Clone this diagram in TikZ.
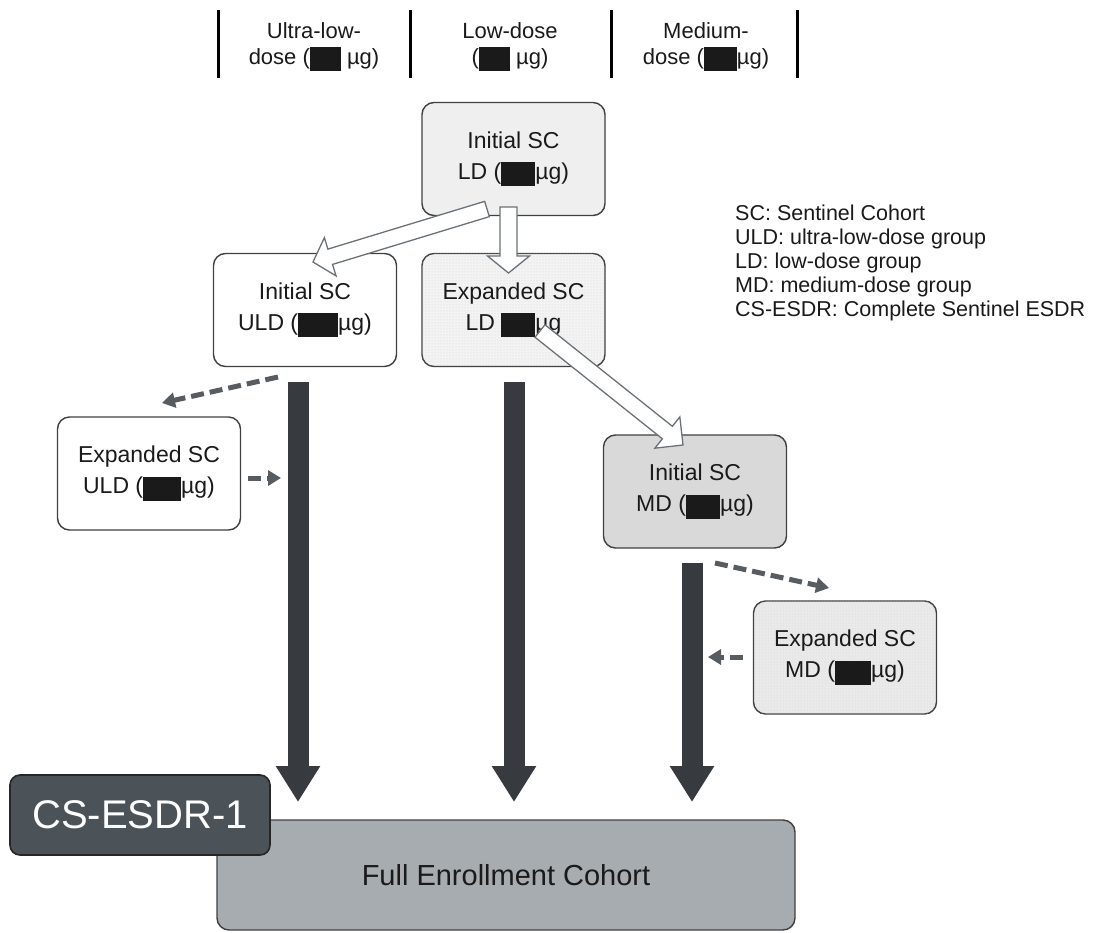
\documentclass[tikz,border=0pt]{standalone}
\usepackage{fontspec}
\setmainfont{Liberation Sans}
\usetikzlibrary{arrows.meta,calc,patterns}
\definecolor{bordc}{HTML}{404040}
\definecolor{txt}{HTML}{1A1A1A}
\definecolor{ildc}{HTML}{EFEFEF}
\definecolor{eldc}{HTML}{F3F3F3}
\definecolor{imdc}{HTML}{D9D9D9}
\definecolor{emdc}{HTML}{EAEAEA}
\definecolor{dotc}{HTML}{D2D2D2}
\definecolor{fullc}{HTML}{A7ACB1}
\definecolor{csc}{HTML}{4B5359}
\definecolor{barc}{HTML}{373B3F}
\definecolor{dashc}{HTML}{575C61}
\definecolor{openc}{HTML}{6B7277}
\newcommand\blk[1][34pt]{\rule[-7pt]{#1}{24pt}}
\newcommand\blockarr[5]{%
  \coordinate (ba-h) at ($(#2)!#5!(#1)$);
  \draw[openarr] ($(#1)!#3!90:(#2)$) -- ($(ba-h)!#3!90:(#2)$) -- ($(ba-h)!#4!90:(#2)$)
    -- (#2) -- ($(ba-h)!#4!-90:(#2)$) -- ($(ba-h)!#3!-90:(#2)$) -- ($(#1)!#3!-90:(#2)$) -- cycle;}
\begin{document}
\begin{tikzpicture}[x=1pt,y=-1pt,
  box/.style={draw=bordc, line width=1.4pt, rounded corners=12pt, minimum width=183pt,
    minimum height=113pt, align=center, inner sep=0pt, text=txt,
    font=\fontsize{23pt}{31pt}\selectfont},
  dotted box/.style={box, postaction={pattern=dots, pattern color=dotc}},
  hdr/.style={align=center, inner sep=0pt, text=txt, font=\fontsize{22pt}{26pt}\selectfont},
  hline/.style={line width=3pt, draw=black},
  bar/.style={draw=barc, line width=21pt, -{Triangle[width=42pt,length=36pt]}},
  dasharr/.style={draw=dashc, line width=5pt, dash pattern=on 13pt off 6pt,
    -{Triangle[width=15pt,length=13pt]}},
  openarr/.style={draw=openc, line width=1.3pt, fill=white, line join=miter}]
\useasboundingbox (0,0) rectangle (1106,932);
% header
\draw[hline] (218,10) -- (218,78);
\draw[hline] (410,10) -- (410,78);
\draw[hline] (611,10) -- (611,78);
\draw[hline] (797,10) -- (797,78);
\node[hdr] (h1) at (314,47) {Ultra-low-\\dose (\blk[31pt] µg)};
\node[hdr] (h2) at (510,47) {Low-dose\\(\blk[31pt] µg)};
\node[hdr] (h3) at (706,47) {Medium-\\dose (\blk[33pt]µg)};
% legend
\node[anchor=west, align=left, inner sep=0pt, text=txt,
  font=\fontsize{21.5pt}{24pt}\selectfont] (legend) at (735,263)
  {SC: Sentinel Cohort\\ULD: ultra-low-dose group\\LD: low-dose group\\MD: medium-dose group\\CS-ESDR: Complete Sentinel ESDR};
% boxes
\node[box, fill=ildc] (ild) at (513.5,159) {Initial SC\\LD (\blk µg)};
\node[box, fill=white] (iuld) at (305,310) {Initial SC\\ULD (\blk[40pt]µg)};
\node[dotted box, fill=eldc] (eld) at (513.5,310) {Expanded SC\\LD \blk µg};
\node[box, fill=white] (euld) at (149,473.5) {Expanded SC\\ULD (\blk[38pt]µg)};
\node[box, fill=imdc] (imd) at (695,491.5) {Initial SC\\MD (\blk µg)};
\node[dotted box, fill=emdc] (emd) at (845,657.5) {Expanded SC\\MD (\blk[36pt]µg)};
% bottom boxes
\node[draw=bordc, line width=1.4pt, rounded corners=12pt, fill=fullc, minimum width=578pt,
  minimum height=110pt, inner sep=0pt, text=txt, font=\fontsize{29pt}{34pt}\selectfont]
  (full) at (506,875) {Full Enrollment Cohort};
\node[draw=black!85, line width=1.6pt, rounded corners=10pt, fill=csc, minimum width=260pt,
  minimum height=80pt, inner sep=0pt, text=white, font=\fontsize{40pt}{44pt}\selectfont]
  (cs) at (140,815) {CS-ESDR-1};
% bars
\coordinate (b1s) at (298,382); \coordinate (b1e) at (298,802);
\coordinate (b2s) at (514,382); \coordinate (b2e) at (514,802);
\coordinate (b3s) at (692,563); \coordinate (b3e) at (692,802);
\draw[bar] (b1s) -- (b1e);
\draw[bar] (b2s) -- (b2e);
\draw[bar] (b3s) -- (b3e);
% dashed arrows
\coordinate (d1s) at (278,377); \coordinate (d1e) at (162,403);
\coordinate (d2s) at (248,478); \coordinate (d2e) at (281,478);
\coordinate (d3s) at (715,563); \coordinate (d3e) at (829,588);
\coordinate (d4s) at (743,657); \coordinate (d4e) at (708,657);
\draw[dasharr] (d1s) -- (d1e);
\draw[dasharr] (d2s) -- (d2e);
\draw[dasharr] (d3s) -- (d3e);
\draw[dasharr] (d4s) -- (d4e);
% open block arrows
\coordinate (a1s) at (487,209); \coordinate (a1e) at (313,262);
\coordinate (a2s) at (508.5,207); \coordinate (a2e) at (508.5,273);
\coordinate (a3s) at (540,331); \coordinate (a3e) at (683,445);
\blockarr{a1s}{a1e}{8pt}{20pt}{18pt}
\blockarr{a2s}{a2e}{8.5pt}{21pt}{17pt}
\blockarr{a3s}{a3e}{8pt}{20pt}{20pt}
\end{tikzpicture}
\end{document}
